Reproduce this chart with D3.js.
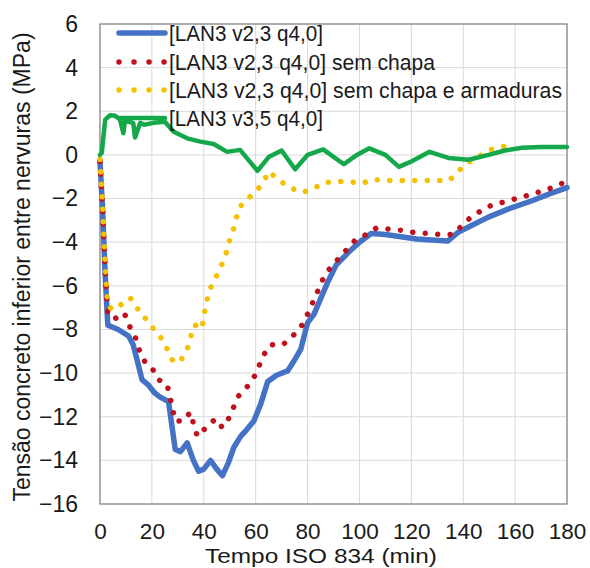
<!DOCTYPE html>
<html>
<head>
<meta charset="utf-8">
<script src="https://cdn.jsdelivr.net/npm/d3@7"></script>
<style>
  html, body { margin: 0; padding: 0; background: #fff; }
  svg { display: block; font-family: "Liberation Sans", Arial, sans-serif; }
</style>
</head>
<body>
<svg id="chart" width="590" height="568"></svg>
<script>
// ---------- data ----------
const xTicks = [0, 20, 40, 60, 80, 100, 120, 140, 160, 180];
const yTicks = [6, 4, 2, 0, -2, -4, -6, -8, -10, -12, -14, -16];
const seriesNames = [
  "[LAN3 v2,3 q4,0]",
  "[LAN3 v2,3 q4,0] sem chapa",
  "[LAN3 v2,3 q4,0] sem chapa e armaduras",
  "[LAN3 v3,5 q4,0]"
];
const legendWidths = [154, 266, 393, 154];
const xLabel = "Tempo ISO 834 (min)";
const yLabel = "Tensão concreto inferior entre nervuras (MPa)";

const blue = [[0,-0.3],[1,-2.5],[2,-5.5],[3,-7.8],[5,-7.9],[7,-8.0],[9,-8.15],[11,-8.3],[12.8,-8.7],[14.5,-9.5],[16.2,-10.3],[18.7,-10.55],[21,-10.9],[23.2,-11.1],[26.4,-11.3],[29,-13.5],[31,-13.6],[33.6,-13.2],[36,-14.0],[38,-14.5],[40,-14.4],[42.6,-14.0],[45,-14.4],[47.2,-14.7],[49.5,-14.1],[51.6,-13.4],[54.2,-12.9],[56.5,-12.6],[59.3,-12.2],[62,-11.4],[64.6,-10.4],[68,-10.1],[72.3,-9.9],[75,-9.4],[77.4,-8.9],[80,-7.7],[82.5,-7.3],[85,-6.6],[87.7,-5.85],[91,-5.05],[95.5,-4.5],[100,-4.0],[104.5,-3.6],[110,-3.65],[116,-3.75],[122,-3.85],[127.7,-3.9],[134,-3.95],[138,-3.55],[143,-3.25],[149.7,-2.85],[158,-2.45],[166.5,-2.1],[173,-1.8],[180,-1.5]];

const red = [[0,-0.3],[1,-2.5],[2,-5.3],[3,-7.3],[4.7,-7.3],[7,-7.6],[8.5,-7.45],[9.7,-7.35],[11.6,-7.9],[13.5,-8.3],[15,-8.9],[16.7,-9.4],[20,-9.75],[22.4,-10.3],[25.8,-10.5],[27,-11.1],[29,-12.2],[32,-12.2],[34.8,-11.8],[36,-12.3],[37.5,-12.9],[40,-12.6],[42.6,-12.3],[44.5,-12.1],[47.2,-12.5],[49.5,-12.1],[53.4,-11.05],[56.9,-10.6],[59.3,-10.2],[61.2,-9.7],[63.2,-9.15],[65.8,-8.7],[70.5,-8.7],[74.3,-8.3],[77.4,-7.9],[80,-7.3],[83.9,-6.25],[85.9,-5.7],[88.3,-5.25],[91.6,-4.8],[95,-4.35],[98,-3.95],[102.6,-3.65],[106.5,-3.35],[111,-3.4],[116,-3.45],[121,-3.55],[126,-3.6],[131,-3.65],[136,-3.65],[139.4,-3.25],[143,-2.85],[147,-2.55],[151,-2.3],[156,-2.15],[161.3,-1.97],[166,-1.82],[170,-1.67],[175,-1.47],[180,-1.2]];

const yellow = [[0,-0.2],[1,-2.3],[2,-5.0],[3,-6.9],[5,-7.1],[7.7,-6.9],[10,-6.7],[11.6,-6.55],[13.5,-6.8],[15.5,-7.3],[18.6,-7.6],[21.3,-8.1],[24.4,-8.5],[26.3,-9.0],[28.3,-9.5],[31,-9.45],[33.6,-8.9],[34.8,-8.5],[35.6,-7.9],[36.8,-7.8],[38,-8.0],[39.5,-7.8],[40.6,-7.0],[41.4,-6.6],[42.6,-6.1],[44.5,-5.65],[46.5,-5.15],[48.4,-4.65],[49.2,-4.15],[51,-3.6],[52.3,-3.0],[53.5,-2.45],[56,-2.1],[59.3,-1.77],[62.7,-1.32],[65,-0.76],[69,-1.16],[73.5,-1.52],[78,-1.72],[82,-1.57],[86.3,-1.27],[91,-1.22],[96,-1.22],[100.6,-1.32],[105,-1.12],[110,-1.17],[115,-1.17],[120,-1.17],[125,-1.17],[130,-1.17],[134.7,-1.17],[138,-0.76],[141.3,-0.38],[145.9,-0.08],[150.2,0.23],[154.8,0.38],[160,0.4]];

const green = [[0,0],[0.7,0.1],[2,1.62],[3.9,1.82],[5.8,1.8],[7.7,1.62],[9,1.0],[9.7,1.62],[11,1.52],[12.8,1.47],[13.5,0.8],[15.5,1.47],[17,1.38],[20.6,1.47],[25,1.52],[28.4,1.06],[33.6,0.76],[38.7,0.61],[43.8,0.5],[49,0.14],[54,0.23],[60.7,-0.73],[65,-0.1],[70,0.2],[75.2,-0.66],[80,0],[86,0.25],[94,-0.43],[99,0],[103.8,0.3],[110,0],[115.2,-0.55],[120,-0.3],[127,0.14],[134.3,-0.14],[142,-0.22],[149.8,0],[156,0.2],[162.6,0.33],[170,0.36],[180,0.36]];

// ---------- layout ----------
const svg = d3.select("#chart");
const L = 100, R = 567, T = 24, B = 504;
const x = d3.scaleLinear().domain([0, 180]).range([L, R]);
const y = d3.scaleLinear().domain([-16, 6]).range([B, T]);

// grid
const grid = svg.append("g");
grid.selectAll("line.v").data(xTicks).enter().append("line")
  .attr("x1", d => x(d)).attr("x2", d => x(d)).attr("y1", T).attr("y2", B)
  .attr("stroke", "#d9d9d9").attr("stroke-width", 1);
grid.selectAll("line.h").data(yTicks).enter().append("line")
  .attr("x1", L).attr("x2", R).attr("y1", d => y(d)).attr("y2", d => y(d))
  .attr("stroke", "#d9d9d9").attr("stroke-width", 1);

// border
svg.append("rect").attr("x", L).attr("y", T).attr("width", R - L).attr("height", B - T)
  .attr("fill", "none").attr("stroke", "#8c8c8c").attr("stroke-width", 1.3);

// axes (tick labels)
const xAxis = d3.axisBottom(x).tickValues(xTicks).tickSize(0).tickPadding(19);
const gx = svg.append("g").attr("transform", `translate(0,${B})`).call(xAxis);
gx.select(".domain").remove();
gx.selectAll("text").attr("font-size", 22.5).attr("fill", "#1a1a1a")
  .attr("font-family", "Liberation Sans, Arial, sans-serif");

const yAxis = d3.axisLeft(y).tickValues(yTicks).tickSize(0).tickPadding(22);
const gy = svg.append("g").attr("transform", `translate(${L},0)`).call(yAxis);
gy.select(".domain").remove();
gy.selectAll("text").attr("font-size", 23).attr("fill", "#1a1a1a")
  .attr("font-family", "Liberation Sans, Arial, sans-serif");

// axis titles
svg.append("text").attr("x", 205).attr("y", 563)
  .attr("font-size", 21).attr("fill", "#1a1a1a")
  .attr("textLength", 232).attr("lengthAdjust", "spacingAndGlyphs").text(xLabel);
svg.append("text").attr("transform", "translate(30,267) rotate(-90)").attr("text-anchor", "middle")
  .attr("font-size", 23).attr("fill", "#1a1a1a").text(yLabel);

// series
const line = d3.line().x(d => x(d[0])).y(d => y(d[1]));
const series = [
  { data: blue,   color: "#4472C4", width: 5.5, dash: null },
  { data: red,    color: "#C0101E", width: 5.5, dash: "0.01 12.5" },
  { data: yellow, color: "#F5C000", width: 5.5, dash: "0.01 12.5" },
  { data: green,  color: "#14A84A", width: 4.5, dash: null }
];
const gs = svg.append("g");
series.forEach(s => {
  gs.append("path").datum(s.data).attr("d", line)
    .attr("fill", "none").attr("stroke", s.color).attr("stroke-width", s.width)
    .attr("stroke-linecap", "round").attr("stroke-linejoin", "round")
    .attr("stroke-dasharray", s.dash);
});

// legend
const legY = [33, 62, 90, 118];
const lg = svg.append("g");
series.forEach((s, i) => {
  lg.append("line").attr("x1", 119).attr("x2", 165).attr("y1", legY[i]).attr("y2", legY[i])
    .attr("stroke", s.color).attr("stroke-width", s.width)
    .attr("stroke-linecap", "round")
    .attr("stroke-dasharray", s.dash ? "0.01 15" : null);
  lg.append("text").attr("x", 169).attr("y", legY[i]).attr("dy", "0.35em")
    .attr("font-size", 22).attr("fill", "#1a1a1a")
    .attr("textLength", legendWidths[i]).attr("lengthAdjust", "spacingAndGlyphs")
    .text(seriesNames[i]);
});
</script>
</body>
</html>
